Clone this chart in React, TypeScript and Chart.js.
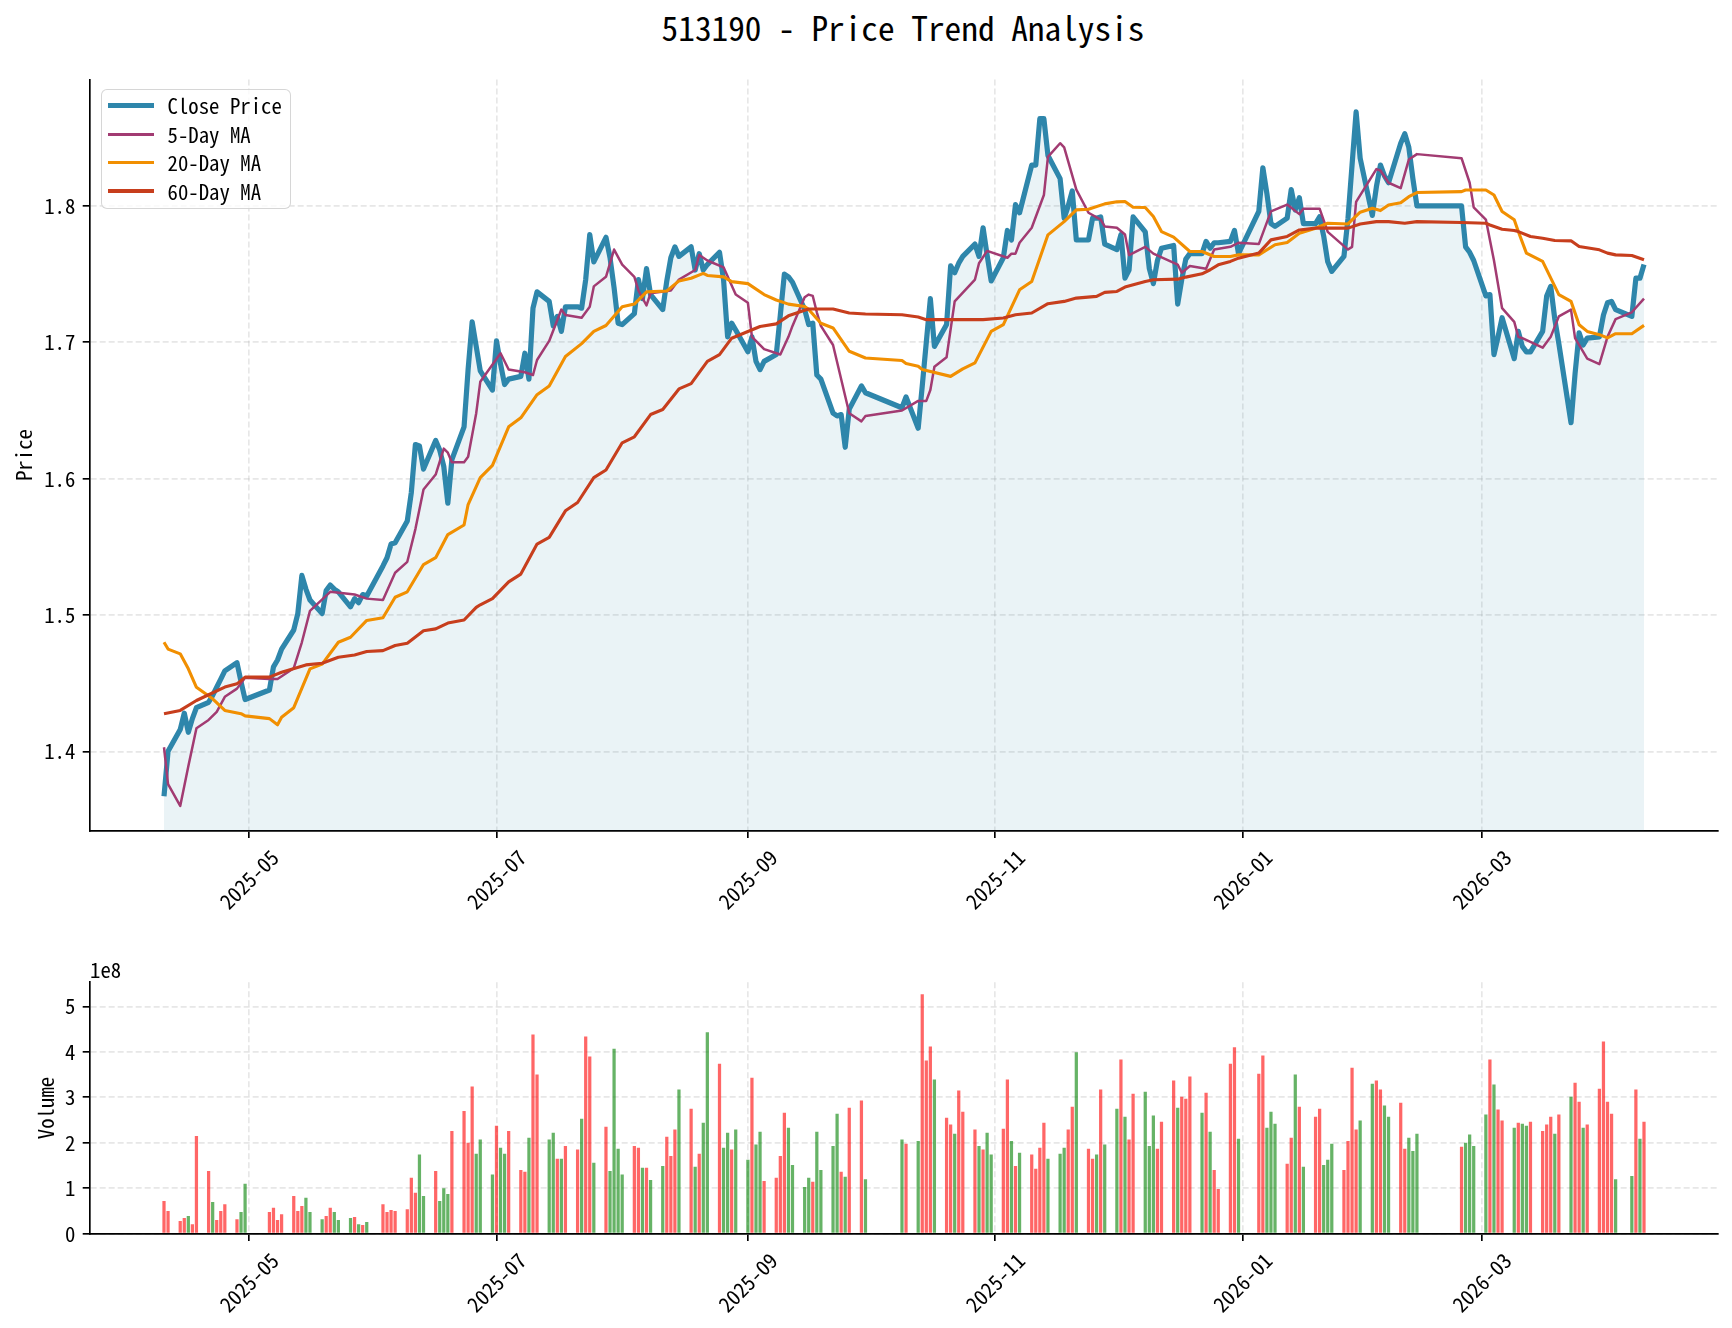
import React, { useEffect, useRef } from "react";
import { Chart, registerables } from "chart.js";

Chart.register(...registerables);

// ---------------- DATA ----------------
const tradingDaysByMonth: [string, number[]][] = [
  ["2025-04", [10, 11, 14, 15, 16, 17, 18, 21, 22, 23, 24, 25, 28, 29, 30]],
  ["2025-05", [6, 7, 8, 9, 12, 13, 14, 15, 16, 19, 20, 21, 22, 23, 26, 27, 28, 29, 30]],
  ["2025-06", [3, 4, 5, 6, 9, 10, 11, 12, 13, 16, 17, 18, 19, 20, 23, 24, 25, 26, 27, 30]],
  ["2025-07", [1, 2, 3, 4, 7, 8, 9, 10, 11, 14, 15, 16, 17, 18, 21, 22, 23, 24, 25, 28, 29, 30, 31]],
  ["2025-08", [1, 4, 5, 6, 7, 8, 11, 12, 13, 14, 15, 18, 19, 20, 21, 22, 25, 26, 27, 28, 29]],
  ["2025-09", [1, 2, 3, 4, 5, 8, 9, 10, 11, 12, 15, 16, 17, 18, 19, 22, 23, 24, 25, 26, 29, 30]],
  ["2025-10", [9, 10, 13, 14, 15, 16, 17, 20, 21, 22, 23, 24, 27, 28, 29, 30, 31]],
  ["2025-11", [3, 4, 5, 6, 7, 10, 11, 12, 13, 14, 17, 18, 19, 20, 21, 24, 25, 26, 27, 28]],
  ["2025-12", [1, 2, 3, 4, 5, 8, 9, 10, 11, 12, 15, 16, 17, 18, 19, 22, 23, 24, 25, 26, 29, 30, 31]],
  ["2026-01", [5, 6, 7, 8, 9, 12, 13, 14, 15, 16, 19, 20, 21, 22, 23, 26, 27, 28, 29, 30]],
  ["2026-02", [2, 3, 4, 5, 6, 9, 10, 11, 12, 13, 24, 25, 26, 27]],
  ["2026-03", [2, 3, 4, 5, 6, 9, 10, 11, 12, 13, 16, 17, 18, 19, 20, 23, 24, 25, 26, 27, 30, 31]],
  ["2026-04", [1, 2, 3, 7, 8, 9, 10]],
];

const closePrice: number[] = [
  // 2025-04
  1.367, 1.400, 1.416, 1.428, 1.414, 1.424, 1.432, 1.436, 1.441, 1.447, 1.453, 1.459, 1.465, 1.451, 1.438,
  // 2025-05
  1.445, 1.462, 1.467, 1.475, 1.489, 1.501, 1.529, 1.519, 1.511, 1.501, 1.518, 1.522, 1.519, 1.517, 1.506, 1.512, 1.509, 1.515, 1.514,
  // 2025-06
  1.536, 1.542, 1.552, 1.553, 1.569, 1.590, 1.625, 1.624, 1.607, 1.628, 1.621, 1.609, 1.582, 1.614, 1.638, 1.680, 1.715, 1.697, 1.679, 1.665,
  // 2025-07
  1.701, 1.684, 1.669, 1.673, 1.675, 1.692, 1.673, 1.725, 1.737, 1.730, 1.712, 1.719, 1.708, 1.726, 1.726, 1.725, 1.746, 1.779, 1.759, 1.777, 1.762, 1.740, 1.714,
  // 2025-08
  1.713, 1.721, 1.746, 1.732, 1.754, 1.735, 1.724, 1.745, 1.762, 1.770, 1.763, 1.770, 1.753, 1.765, 1.753, 1.757, 1.766, 1.746, 1.704, 1.714, 1.709,
  // 2025-09
  1.693, 1.704, 1.686, 1.680, 1.686, 1.691, 1.720, 1.750, 1.748, 1.744, 1.724, 1.713, 1.714, 1.676, 1.673, 1.648, 1.646, 1.647, 1.623, 1.651, 1.668, 1.663,
  // 2025-10
  1.652, 1.660, 1.637, 1.668, 1.700, 1.732, 1.697, 1.713, 1.756, 1.751, 1.758, 1.763, 1.772, 1.763, 1.784, 1.764, 1.745,
  // 2025-11
  1.762, 1.782, 1.775, 1.801, 1.795, 1.830, 1.830, 1.864, 1.864, 1.837, 1.820, 1.791, 1.800, 1.811, 1.775, 1.775, 1.791, 1.791, 1.792, 1.772,
  // 2025-12
  1.768, 1.779, 1.747, 1.753, 1.792, 1.781, 1.754, 1.743, 1.760, 1.769, 1.771, 1.728, 1.746, 1.761, 1.765, 1.765, 1.774, 1.769, 1.773, 1.773, 1.774, 1.782, 1.765,
  // 2026-01
  1.796, 1.828, 1.809, 1.787, 1.785, 1.791, 1.812, 1.797, 1.806, 1.787, 1.787, 1.792, 1.778, 1.759, 1.752, 1.763, 1.791, 1.830, 1.869, 1.835,
  // 2026-02
  1.793, 1.814, 1.830, 1.822, 1.817, 1.846, 1.853, 1.843, 1.820, 1.800, 1.800, 1.770, 1.766, 1.760,
  // 2026-03
  1.734, 1.735, 1.691, 1.704, 1.718, 1.688, 1.708, 1.697, 1.693, 1.693, 1.708, 1.734, 1.741, 1.717, 1.699, 1.641, 1.677, 1.707, 1.698, 1.703, 1.704, 1.720,
  // 2026-04
  1.729, 1.730, 1.724, 1.719, 1.747, 1.747, 1.757,
];

// volume in units of 1e8
const volume1e8: number[] = [
  // 2025-04
  0.72, 0.50, 0.28, 0.345, 0.39, 0.21, 2.15, 1.38, 0.70, 0.30, 0.50, 0.65, 0.32, 0.48, 1.10,
  // 2025-05
  0.48, 0.57, 0.30, 0.43, 0.83, 0.50, 0.61, 0.79, 0.48, 0.32, 0.39, 0.57, 0.48, 0.30, 0.345, 0.37, 0.21, 0.19, 0.26,
  // 2025-06
  0.65, 0.48, 0.52, 0.50, 0.54, 1.23, 0.90, 1.74, 0.83, 1.38, 0.72, 1.00, 0.875, 2.26, 2.70, 2.00, 3.24, 1.76, 2.07, 1.30,
  // 2025-07
  2.375, 1.89, 1.76, 2.26, 1.40, 1.36, 2.11, 4.38, 3.50, 2.07, 2.22, 1.65, 1.65, 1.93, 1.85, 2.53, 4.34, 3.90, 1.56, 2.35, 1.38, 4.07, 1.87,
  // 2025-08
  1.30, 1.93, 1.89, 1.45, 1.45, 1.18, 1.49, 2.13, 1.71, 2.29, 3.17, 2.75, 1.47, 1.76, 2.44, 4.43, 3.74, 1.89, 2.22, 1.85, 2.29,
  // 2025-09
  1.625, 3.43, 1.96, 2.24, 1.16, 1.23, 1.71, 2.66, 2.33, 1.51, 1.03, 1.23, 1.14, 2.24, 1.40, 1.93, 2.64, 1.36, 1.25, 2.77, 2.93, 1.20,
  // 2025-10
  2.07, 1.98, 2.04, 5.265, 3.81, 4.12, 3.39, 2.55, 2.40, 2.20, 3.15, 2.68, 2.29, 1.93, 1.85, 2.22, 1.74,
  // 2025-11
  2.31, 3.39, 2.04, 1.49, 1.78, 1.74, 1.43, 1.89, 2.44, 1.65, 1.76, 1.89, 2.29, 2.79, 3.99, 1.87, 1.65, 1.74, 3.17, 1.96,
  // 2025-12
  2.75, 3.83, 2.57, 2.07, 3.08, 3.125, 1.93, 2.60, 1.87, 2.46, 3.37, 2.77, 3.01, 2.97, 3.46, 2.66, 3.10, 2.24, 1.40, 0.985, 3.74, 4.10, 2.09,
  // 2026-01
  3.52, 3.92, 2.33, 2.68, 2.42, 1.54, 2.11, 3.50, 2.79, 1.47, 2.57, 2.75, 1.51, 1.625, 1.98, 1.40, 2.04, 3.65, 2.29, 2.49,
  // 2026-02
  3.30, 3.37, 3.17, 2.82, 2.57, 2.88, 1.87, 2.11, 1.82, 2.20, 1.91, 2.00, 2.18, 1.93,
  // 2026-03
  2.62, 3.83, 3.28, 2.73, 2.49, 2.33, 2.44, 2.42, 2.375, 2.46, 2.26, 2.40, 2.57, 2.20, 2.62, 3.01, 3.32, 2.90, 2.33, 2.40, 3.19, 4.23,
  // 2026-04
  2.90, 2.64, 1.20, 1.27, 3.17, 2.09, 2.46,
];

// R = up day (red), G = down day (green), one letter per trading day
const volumeDirection: string[] = [
  "RRRRGRRRGRRRRGG", // 2025-04
  "RRRRRRRGGGRRGGGRGRG", // 2025-05
  "RRRRRRRGGRGGGRRRRGGG", // 2025-06
  "RGGRRRGRRGGRGRRGRRGRGGG", // 2025-07
  "GRRGRGGRRRGRGRGGRGGRG", // 2025-08
  "GRGGRRRRGGGGRGGGGRGRRG", // 2025-09
  "GRGRRRGRRGRRRGRGG", // 2025-10
  "RRGRGRRRRGGGRRGRRGRG", // 2025-11
  "GRGRRGGGRRRGRRRGRGRRRRG", // 2025-12
  "RRGGGRRGRGRRGGGRRRRG", // 2026-01
  "GRRGGRRGGGRGGG", // 2026-02
  "GRGRRGRGGRRRRGRGRRGRRR", // 2026-03
  "RRGGRGR", // 2026-04
];

const ma5Points: [string, number][] = [
  ["2025-04-10", 1.403], ["2025-04-11", 1.376], ["2025-04-14", 1.360], ["2025-04-16", 1.389], ["2025-04-18", 1.417],
  ["2025-04-21", 1.423], ["2025-04-23", 1.429], ["2025-04-25", 1.440], ["2025-04-28", 1.446], ["2025-04-30", 1.454],
  ["2025-05-06", 1.453], ["2025-05-08", 1.453], ["2025-05-12", 1.461], ["2025-05-14", 1.480], ["2025-05-16", 1.503],
  ["2025-05-21", 1.517], ["2025-05-27", 1.515], ["2025-05-30", 1.512], ["2025-06-03", 1.511], ["2025-06-06", 1.531],
  ["2025-06-09", 1.539], ["2025-06-11", 1.563], ["2025-06-13", 1.592], ["2025-06-16", 1.603], ["2025-06-18", 1.622],
  ["2025-06-19", 1.619], ["2025-06-20", 1.612], ["2025-06-23", 1.612], ["2025-06-24", 1.616], ["2025-06-26", 1.648],
  ["2025-06-27", 1.671], ["2025-07-02", 1.692], ["2025-07-04", 1.680], ["2025-07-08", 1.678], ["2025-07-10", 1.676],
  ["2025-07-11", 1.687], ["2025-07-14", 1.701], ["2025-07-17", 1.724], ["2025-07-18", 1.720], ["2025-07-22", 1.718],
  ["2025-07-24", 1.726], ["2025-07-25", 1.741], ["2025-07-28", 1.748], ["2025-07-30", 1.768], ["2025-08-01", 1.757],
  ["2025-08-04", 1.748], ["2025-08-05", 1.738], ["2025-08-07", 1.727], ["2025-08-08", 1.736], ["2025-08-13", 1.738],
  ["2025-08-15", 1.746], ["2025-08-19", 1.753], ["2025-08-20", 1.764], ["2025-08-22", 1.760], ["2025-08-26", 1.755],
  ["2025-08-29", 1.735], ["2025-09-01", 1.729], ["2025-09-02", 1.704], ["2025-09-05", 1.695], ["2025-09-09", 1.691],
  ["2025-09-11", 1.704], ["2025-09-12", 1.712], ["2025-09-15", 1.733], ["2025-09-16", 1.735], ["2025-09-17", 1.734],
  ["2025-09-18", 1.722], ["2025-09-19", 1.712], ["2025-09-22", 1.698], ["2025-09-26", 1.648], ["2025-09-29", 1.642],
  ["2025-09-30", 1.646], ["2025-10-09", 1.650], ["2025-10-13", 1.657], ["2025-10-15", 1.657], ["2025-10-16", 1.665],
  ["2025-10-17", 1.682], ["2025-10-20", 1.689], ["2025-10-22", 1.730], ["2025-10-27", 1.746], ["2025-10-28", 1.758],
  ["2025-10-30", 1.767], ["2025-11-04", 1.762], ["2025-11-05", 1.765], ["2025-11-06", 1.765], ["2025-11-07", 1.773],
  ["2025-11-10", 1.784], ["2025-11-13", 1.808], ["2025-11-14", 1.836], ["2025-11-17", 1.846], ["2025-11-18", 1.843],
  ["2025-11-21", 1.812], ["2025-11-24", 1.795], ["2025-11-27", 1.790], ["2025-11-28", 1.785], ["2025-12-01", 1.784],
  ["2025-12-03", 1.779], ["2025-12-04", 1.764], ["2025-12-08", 1.770], ["2025-12-10", 1.765], ["2025-12-16", 1.757],
  ["2025-12-17", 1.751], ["2025-12-19", 1.756], ["2025-12-23", 1.754], ["2025-12-25", 1.768], ["2025-12-29", 1.770],
  ["2025-12-31", 1.773], ["2026-01-05", 1.772], ["2026-01-08", 1.796], ["2026-01-12", 1.801], ["2026-01-15", 1.794],
  ["2026-01-16", 1.798], ["2026-01-20", 1.798], ["2026-01-22", 1.781], ["2026-01-27", 1.768], ["2026-01-28", 1.770],
  ["2026-01-29", 1.803], ["2026-02-03", 1.827], ["2026-02-04", 1.826], ["2026-02-06", 1.817], ["2026-02-09", 1.813],
  ["2026-02-11", 1.834], ["2026-02-13", 1.838], ["2026-02-24", 1.835], ["2026-02-26", 1.817], ["2026-02-27", 1.799],
  ["2026-03-02", 1.790], ["2026-03-04", 1.760], ["2026-03-06", 1.725], ["2026-03-09", 1.715], ["2026-03-10", 1.704],
  ["2026-03-11", 1.703], ["2026-03-16", 1.696], ["2026-03-18", 1.704], ["2026-03-20", 1.719], ["2026-03-23", 1.724],
  ["2026-03-24", 1.703], ["2026-03-27", 1.688], ["2026-03-30", 1.684], ["2026-04-01", 1.704], ["2026-04-03", 1.717],
  ["2026-04-07", 1.722], ["2026-04-10", 1.732],
];

const ma20Points: [string, number][] = [
  ["2025-04-10", 1.480], ["2025-04-11", 1.475], ["2025-04-14", 1.4715], ["2025-04-16", 1.4605], ["2025-04-18", 1.447],
  ["2025-04-22", 1.4385], ["2025-04-25", 1.430], ["2025-04-29", 1.4276], ["2025-04-30", 1.426], ["2025-05-06", 1.424],
  ["2025-05-08", 1.4195], ["2025-05-09", 1.425], ["2025-05-12", 1.432], ["2025-05-16", 1.4605], ["2025-05-19", 1.464],
  ["2025-05-23", 1.480], ["2025-05-26", 1.4837], ["2025-05-30", 1.496], ["2025-06-03", 1.498], ["2025-06-06", 1.513],
  ["2025-06-09", 1.517], ["2025-06-13", 1.537], ["2025-06-16", 1.542], ["2025-06-19", 1.559], ["2025-06-23", 1.566],
  ["2025-06-24", 1.581], ["2025-06-27", 1.6007], ["2025-06-30", 1.6097], ["2025-07-04", 1.638], ["2025-07-07", 1.6446],
  ["2025-07-11", 1.6616], ["2025-07-14", 1.668], ["2025-07-18", 1.6896], ["2025-07-22", 1.699], ["2025-07-25", 1.708],
  ["2025-07-28", 1.7123], ["2025-08-01", 1.726], ["2025-08-04", 1.728], ["2025-08-07", 1.737], ["2025-08-12", 1.7376],
  ["2025-08-15", 1.745], ["2025-08-18", 1.747], ["2025-08-21", 1.7505], ["2025-08-22", 1.749], ["2025-08-26", 1.748],
  ["2025-08-28", 1.7445], ["2025-09-01", 1.743], ["2025-09-05", 1.735], ["2025-09-08", 1.731], ["2025-09-11", 1.728],
  ["2025-09-15", 1.7263], ["2025-09-16", 1.724], ["2025-09-19", 1.714], ["2025-09-22", 1.7105], ["2025-09-26", 1.6934],
  ["2025-09-30", 1.6885], ["2025-10-09", 1.6866], ["2025-10-10", 1.6844], ["2025-10-13", 1.6824], ["2025-10-14", 1.680],
  ["2025-10-21", 1.675], ["2025-10-24", 1.6805], ["2025-10-27", 1.6849], ["2025-10-31", 1.708], ["2025-11-03", 1.7129],
  ["2025-11-07", 1.7385], ["2025-11-10", 1.7446], ["2025-11-14", 1.7788], ["2025-11-18", 1.7885], ["2025-11-21", 1.7971],
  ["2025-11-24", 1.7976], ["2025-11-28", 1.8015], ["2025-12-01", 1.803], ["2025-12-03", 1.8032], ["2025-12-05", 1.799],
  ["2025-12-08", 1.7988], ["2025-12-10", 1.7922], ["2025-12-12", 1.7812], ["2025-12-15", 1.7771], ["2025-12-19", 1.7666],
  ["2025-12-22", 1.7666], ["2025-12-25", 1.7629], ["2025-12-29", 1.7629], ["2025-12-31", 1.7641], ["2026-01-05", 1.7641],
  ["2026-01-09", 1.7715], ["2026-01-12", 1.7732], ["2026-01-15", 1.780], ["2026-01-19", 1.7837], ["2026-01-22", 1.7873],
  ["2026-01-27", 1.7868], ["2026-01-28", 1.7898], ["2026-01-30", 1.7954], ["2026-02-02", 1.7983], ["2026-02-04", 1.7966],
  ["2026-02-06", 1.8007], ["2026-02-09", 1.8024], ["2026-02-11", 1.8068], ["2026-02-13", 1.8098], ["2026-02-24", 1.8105],
  ["2026-02-25", 1.8117], ["2026-03-02", 1.8117], ["2026-03-04", 1.808], ["2026-03-06", 1.7959], ["2026-03-09", 1.7898],
  ["2026-03-10", 1.7812], ["2026-03-12", 1.7654], ["2026-03-16", 1.7593], ["2026-03-20", 1.735], ["2026-03-23", 1.730],
  ["2026-03-25", 1.7129], ["2026-03-27", 1.708], ["2026-03-30", 1.7056], ["2026-04-01", 1.7032], ["2026-04-03", 1.7063],
  ["2026-04-07", 1.7063], ["2026-04-10", 1.7124],
];

const ma60Points: [string, number][] = [
  ["2025-04-10", 1.4276], ["2025-04-14", 1.430], ["2025-04-18", 1.4373], ["2025-04-21", 1.4415], ["2025-04-25", 1.4471],
  ["2025-04-28", 1.4495], ["2025-04-30", 1.4544], ["2025-05-06", 1.4544], ["2025-05-09", 1.458], ["2025-05-15", 1.4634],
  ["2025-05-19", 1.4646], ["2025-05-23", 1.469], ["2025-05-27", 1.4707], ["2025-05-30", 1.4732], ["2025-06-03", 1.4739],
  ["2025-06-06", 1.4776], ["2025-06-09", 1.4793], ["2025-06-13", 1.4885], ["2025-06-16", 1.4898], ["2025-06-19", 1.4941],
  ["2025-06-23", 1.4963], ["2025-06-26", 1.5056], ["2025-06-27", 1.5075], ["2025-06-30", 1.512], ["2025-07-04", 1.5243],
  ["2025-07-07", 1.530], ["2025-07-09", 1.541], ["2025-07-11", 1.552], ["2025-07-14", 1.5569], ["2025-07-18", 1.5764],
  ["2025-07-21", 1.5825], ["2025-07-25", 1.6007], ["2025-07-28", 1.6063], ["2025-08-01", 1.6263], ["2025-08-04", 1.6307],
  ["2025-08-08", 1.647], ["2025-08-11", 1.6507], ["2025-08-15", 1.6658], ["2025-08-18", 1.6697], ["2025-08-22", 1.686],
  ["2025-08-25", 1.6909], ["2025-08-28", 1.703], ["2025-09-01", 1.7079], ["2025-09-04", 1.7116], ["2025-09-08", 1.7135],
  ["2025-09-11", 1.7194], ["2025-09-15", 1.7235], ["2025-09-16", 1.7244], ["2025-09-22", 1.7244], ["2025-09-26", 1.7215],
  ["2025-09-30", 1.7207], ["2025-10-09", 1.7202], ["2025-10-13", 1.7185], ["2025-10-15", 1.7166], ["2025-10-22", 1.7166],
  ["2025-10-29", 1.7166], ["2025-11-03", 1.7178], ["2025-11-06", 1.7202], ["2025-11-10", 1.7215], ["2025-11-14", 1.7283],
  ["2025-11-18", 1.730], ["2025-11-21", 1.7324], ["2025-11-26", 1.7337], ["2025-11-28", 1.7366], ["2025-12-01", 1.7373],
  ["2025-12-03", 1.7405], ["2025-12-08", 1.7446], ["2025-12-10", 1.7459], ["2025-12-16", 1.7463], ["2025-12-18", 1.7478],
  ["2025-12-22", 1.7502], ["2025-12-24", 1.7532], ["2025-12-26", 1.7568], ["2025-12-29", 1.7593], ["2025-12-31", 1.7617],
  ["2026-01-05", 1.7654], ["2026-01-08", 1.7751], ["2026-01-12", 1.7776], ["2026-01-15", 1.7824], ["2026-01-19", 1.7837],
  ["2026-01-27", 1.7837], ["2026-01-30", 1.7868], ["2026-02-03", 1.7885], ["2026-02-06", 1.7885], ["2026-02-10", 1.7873],
  ["2026-02-13", 1.7885], ["2026-02-24", 1.7878], ["2026-03-02", 1.7873], ["2026-03-03", 1.786], ["2026-03-06", 1.7829],
  ["2026-03-09", 1.782], ["2026-03-10", 1.7812], ["2026-03-13", 1.7776], ["2026-03-16", 1.7763], ["2026-03-19", 1.7746],
  ["2026-03-23", 1.7744], ["2026-03-25", 1.7702], ["2026-03-30", 1.7678], ["2026-04-01", 1.7654], ["2026-04-03", 1.7641],
  ["2026-04-07", 1.7637], ["2026-04-10", 1.7605],
];

const xTickLabels: string[] = ["2025-05", "2025-07", "2025-09", "2025-11", "2026-01", "2026-03"];
const priceTicks: number[] = [1.4, 1.5, 1.6, 1.7, 1.8];
const volumeTicks: number[] = [0, 1, 2, 3, 4, 5];
const legendLabels: string[] = ["Close Price", "5-Day MA", "20-Day MA", "60-Day MA"];
const titleText = "513190 - Price Trend Analysis";

// ---------------- STYLE ----------------
const FONT = "'Noto Sans Mono CJK SC', 'DejaVu Sans Mono', monospace";
const FS = 20.8;
const TICK_LEN = 7.3;
const TICK_PAD = 7.3;
const COLORS = { close: "#2E86AB", ma5: "#A23B72", ma20: "#F18F01", ma60: "#C73E1D" };
const WIDTHS = { close: 5.2, ma5: 2.5, ma20: 3.1, ma60: 3.1 };
const GRID_COLOR = "rgba(176,176,176,0.3)";
const UP_COLOR = "rgba(255,0,0,0.6)";
const DOWN_COLOR = "rgba(0,128,0,0.6)";

const TOP_H = 935;
const BOT_TOP = 940;
const BOT_H = 1328 - BOT_TOP;

const dayNum = (s: string) => {
  const [y, m, d] = s.split("-").map(Number);
  return Date.UTC(y, m - 1, d || 1) / 86400000;
};

const dates: string[] = tradingDaysByMonth.flatMap(([ym, days]) =>
  days.map((d) => `${ym}-${String(d).padStart(2, "0")}`)
);
const directions: string[] = volumeDirection.join("").split("");

const firstDay = dayNum(dates[0]);
const lastDay = dayNum(dates[dates.length - 1]);
const span = lastDay - firstDay;
const X_MIN = firstDay - 0.05 * span;
const X_MAX = lastDay + 0.05 * span;

const toXY = (pts: [string, number][]) => pts.map(([d, v]) => ({ x: dayNum(d), y: v }));

function axisTextPlugin(yTitle: string, yTitleX: number, withOffset: boolean) {
  return {
    id: "axisText",
    afterDraw(chart: any) {
      const ctx = chart.ctx as CanvasRenderingContext2D;
      const area = chart.chartArea;
      const xs = chart.scales.x;
      ctx.save();
      ctx.fillStyle = "#000";
      ctx.font = `${FS}px ${FONT}`;
      const top = area.bottom + TICK_LEN + TICK_PAD;
      xTickLabels.forEach((lab) => {
        const px = xs.getPixelForValue(dayNum(lab + "-01"));
        const w = ctx.measureText(lab).width;
        const half = ((w + FS * 1.15) * Math.SQRT1_2) / 2;
        ctx.save();
        ctx.translate(px, top + half);
        ctx.rotate(-Math.PI / 4);
        ctx.textAlign = "center";
        ctx.textBaseline = "middle";
        ctx.fillText(lab, 0, 0);
        ctx.restore();
      });
      ctx.save();
      ctx.translate(yTitleX, (area.top + area.bottom) / 2);
      ctx.rotate(-Math.PI / 2);
      ctx.textAlign = "center";
      ctx.textBaseline = "middle";
      ctx.fillText(yTitle, 0, 0);
      ctx.restore();
      if (withOffset) {
        ctx.textAlign = "left";
        ctx.textBaseline = "alphabetic";
        ctx.fillText("1e8", area.left, area.top - 4);
      }
      ctx.restore();
    },
  };
}

function xScale(height: number) {
  return {
    type: "linear" as const,
    min: X_MIN,
    max: X_MAX,
    offset: false,
    afterBuildTicks: (s: any) => {
      s.ticks = xTickLabels.map((l) => ({ value: dayNum(l + "-01") }));
    },
    afterFit: (s: any) => {
      s.height = height;
    },
    ticks: { display: false, autoSkip: false },
    grid: {
      offset: false,
      color: GRID_COLOR,
      lineWidth: 1.67,
      drawTicks: true,
      tickLength: TICK_LEN,
      tickColor: "#000",
      tickWidth: 1.67,
    },
    border: { display: true, color: "#000", width: 1.67, dash: [6, 3] },
  };
}

function yScale(min: number, max: number, ticks: number[], fmt: (v: number) => string) {
  return {
    type: "linear" as const,
    min,
    max,
    afterBuildTicks: (s: any) => {
      s.ticks = ticks.map((v) => ({ value: v }));
    },
    afterFit: (s: any) => {
      s.width = 90;
    },
    ticks: {
      padding: TICK_PAD,
      color: "#000",
      font: { family: FONT, size: FS },
      callback: (v: any) => fmt(Number(v)),
    },
    grid: {
      color: GRID_COLOR,
      lineWidth: 1.67,
      drawTicks: true,
      tickLength: TICK_LEN,
      tickColor: "#000",
      tickWidth: 1.67,
    },
    border: { display: true, color: "#000", width: 1.67, dash: [6, 3] },
  };
}

function PriceChart() {
  const ref = useRef<HTMLCanvasElement | null>(null);
  useEffect(() => {
    if (!ref.current) return;
    const closeXY = dates.map((d, i) => ({ x: dayNum(d), y: closePrice[i] }));
    const chart = new Chart(ref.current, {
      type: "line",
      data: {
        datasets: [
          { label: "60-Day MA", data: toXY(ma60Points), borderColor: COLORS.ma60, borderWidth: WIDTHS.ma60, pointRadius: 0, fill: false, tension: 0, borderJoinStyle: "round" },
          { label: "20-Day MA", data: toXY(ma20Points), borderColor: COLORS.ma20, borderWidth: WIDTHS.ma20, pointRadius: 0, fill: false, tension: 0, borderJoinStyle: "round" },
          { label: "5-Day MA", data: toXY(ma5Points), borderColor: COLORS.ma5, borderWidth: WIDTHS.ma5, pointRadius: 0, fill: false, tension: 0, borderJoinStyle: "round" },
          { label: "Close Price", data: closeXY, borderColor: COLORS.close, borderWidth: WIDTHS.close, backgroundColor: "rgba(46,134,171,0.1)", pointRadius: 0, fill: "origin", tension: 0, borderJoinStyle: "round" },
        ],
      },
      options: {
        animation: false,
        responsive: false,
        devicePixelRatio: 1,
        events: [],
        layout: { padding: { top: 79.4, right: 14, left: 0, bottom: 0 } },
        plugins: { legend: { display: false }, tooltip: { enabled: false }, title: { display: false } },
        scales: {
          x: xScale(TOP_H - 830.7),
          y: yScale(1.3418, 1.8928, priceTicks, (v) => v.toFixed(1)),
        },
      } as any,
      plugins: [axisTextPlugin("Price", 24, false)],
    });
    return () => chart.destroy();
  }, []);
  return <canvas ref={ref} width={1732} height={TOP_H} style={{ position: "absolute", left: 0, top: 0, width: 1732, height: TOP_H }} />;
}

function VolumeChart() {
  const ref = useRef<HTMLCanvasElement | null>(null);
  useEffect(() => {
    if (!ref.current) return;
    const chart = new Chart(ref.current, {
      type: "bar",
      data: {
        datasets: [
          {
            label: "Volume",
            data: dates.map((d, i) => ({ x: dayNum(d), y: volume1e8[i] })),
            backgroundColor: directions.map((c) => (c === "R" ? UP_COLOR : DOWN_COLOR)),
            borderWidth: 0,
            categoryPercentage: 1,
            barPercentage: 0.8,
          },
        ],
      },
      options: {
        animation: false,
        responsive: false,
        devicePixelRatio: 1,
        events: [],
        layout: { padding: { top: 982.3 - BOT_TOP, right: 14, left: 0, bottom: 0 } },
        plugins: { legend: { display: false }, tooltip: { enabled: false }, title: { display: false } },
        scales: {
          x: xScale(1328 - 1233.7),
          y: yScale(0, 5.53, volumeTicks, (v) => String(Math.round(v))),
        },
      } as any,
      plugins: [axisTextPlugin("Volume", 46, true)],
    });
    return () => chart.destroy();
  }, []);
  return <canvas ref={ref} width={1732} height={BOT_H} style={{ position: "absolute", left: 0, top: BOT_TOP, width: 1732, height: BOT_H }} />;
}

function Legend() {
  const rows = [
    { label: legendLabels[0], color: COLORS.close, w: WIDTHS.close },
    { label: legendLabels[1], color: COLORS.ma5, w: WIDTHS.ma5 },
    { label: legendLabels[2], color: COLORS.ma20, w: WIDTHS.ma20 },
    { label: legendLabels[3], color: COLORS.ma60, w: WIDTHS.ma60 },
  ];
  const rowY = [16.9, 46, 74, 102.6];
  return (
    <div
      style={{
        position: "absolute",
        left: 101,
        top: 89,
        width: 190,
        height: 120,
        boxSizing: "border-box",
        border: "1.6px solid rgba(204,204,204,0.8)",
        borderRadius: 6,
        background: "rgba(255,255,255,0.8)",
        zIndex: 2,
      }}
    >
      {rows.map((r, i) => (
        <React.Fragment key={r.label}>
          <div style={{ position: "absolute", left: 5.5, top: rowY[i] - r.w / 2 - 1.6, width: 46, height: r.w, background: r.color }} />
          <div
            style={{
              position: "absolute",
              left: 65.5,
              top: rowY[i] - 14 - 1.6,
              height: 28,
              lineHeight: "28px",
              fontFamily: FONT,
              fontSize: FS,
              color: "#000",
              whiteSpace: "nowrap",
            }}
          >
            {r.label}
          </div>
        </React.Fragment>
      ))}
    </div>
  );
}

export default function App() {
  return (
    <div style={{ position: "absolute", left: 0, top: 0, width: 1732, height: 1328, background: "#fff", overflow: "hidden" }}>
      <div
        style={{
          position: "absolute",
          left: 903 - 600,
          width: 1200,
          top: 6,
          height: 42,
          lineHeight: "42px",
          textAlign: "center",
          fontFamily: FONT,
          fontSize: 33.3,
          color: "#000",
          whiteSpace: "nowrap",
        }}
      >
        {titleText}
      </div>
      <PriceChart />
      <VolumeChart />
      <Legend />
    </div>
  );
}
